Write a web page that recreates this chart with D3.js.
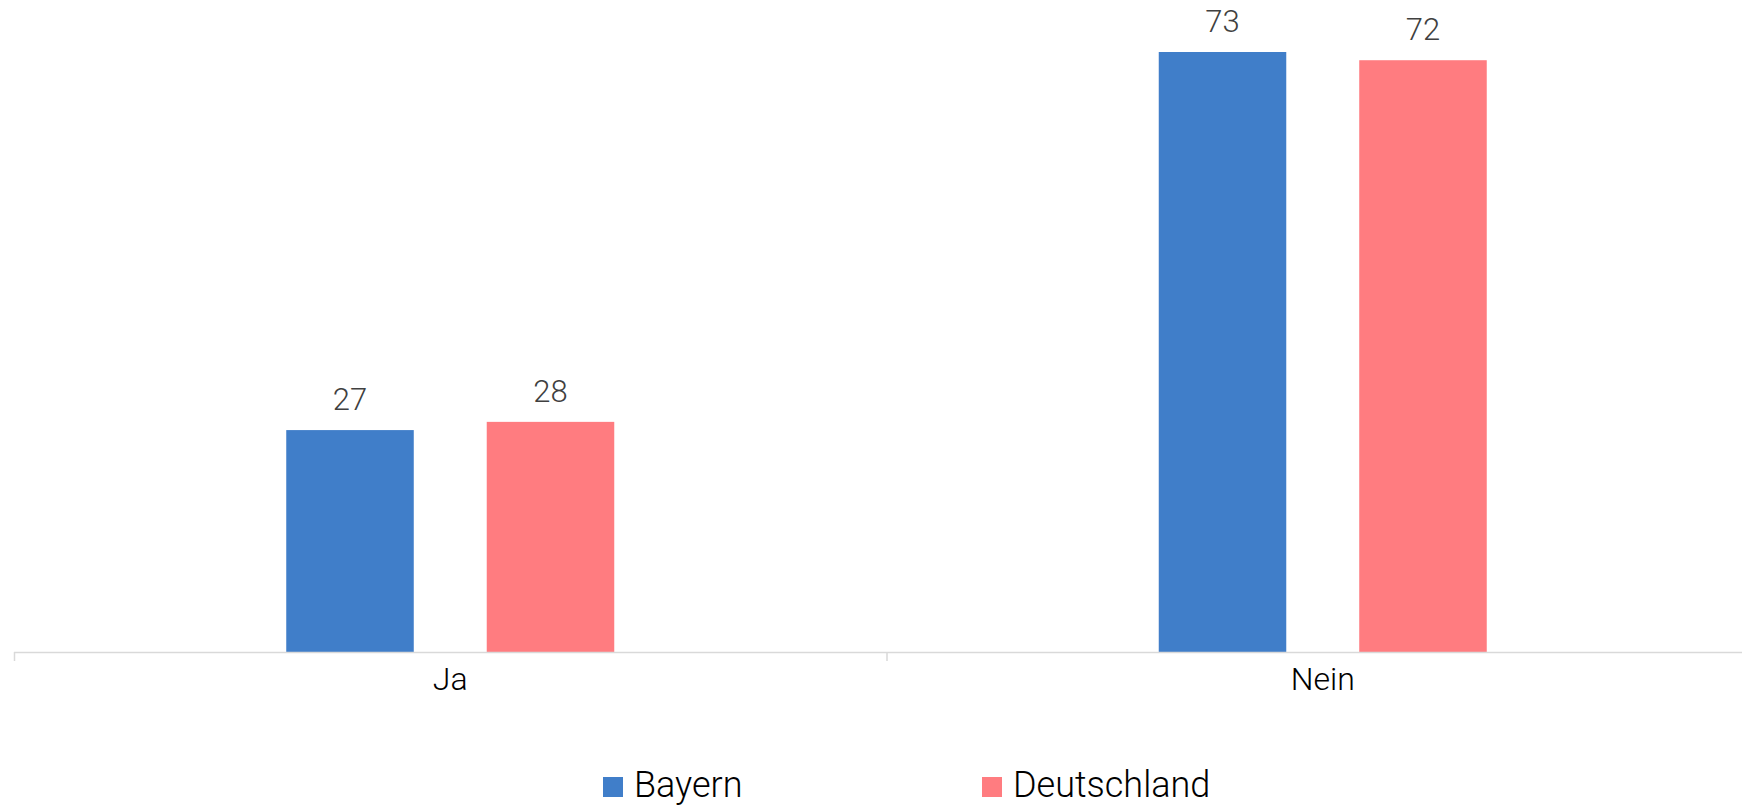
<!DOCTYPE html>
<html>
<head>
<meta charset="utf-8">
<script src="https://cdn.jsdelivr.net/npm/d3@7"></script>
<style>
  html, body { margin: 0; padding: 0; background: #fff; }
  svg { display: block; font-family: Roboto, "Noto Sans", sans-serif; }
</style>
</head>
<body>
<svg id="chart" width="1742" height="807"></svg>
<script>
// Antworten (Ja / Nein) in Prozent, Bayern vs. Deutschland
const categories = ["Ja", "Nein"];
const seriesNames = ["Bayern", "Deutschland"];
const bayern = [27, 73];
const deutschland = [28, 72];
const seriesColors = ["#407EC9", "#FF7C80"];

const rows = categories.map((c, i) => ({
  category: c,
  values: [
    { series: seriesNames[0], value: bayern[i] },
    { series: seriesNames[1], value: deutschland[i] }
  ]
}));

const svg = d3.select("#chart");
const baseY = 652;

const x0 = d3.scaleBand().domain(categories).range([14, 1759]).padding(0);
const groupWidth = 328;
const x1 = d3.scaleBand().domain(seriesNames).range([0, groupWidth]).paddingInner(0.364).paddingOuter(0);
const y = d3.scaleLinear().domain([0, 73]).range([baseY, 52]);
const color = d3.scaleOrdinal().domain(seriesNames).range(seriesColors);

// Bars
const groups = svg.append("g").selectAll("g")
  .data(rows).join("g")
  .attr("transform", d => `translate(${x0(d.category) + x0.bandwidth() / 2 - groupWidth / 2},0)`);

groups.selectAll("rect")
  .data(d => d.values).join("rect")
  .attr("x", d => x1(d.series))
  .attr("y", d => y(d.value))
  .attr("width", x1.bandwidth())
  .attr("height", d => y(0) - y(d.value))
  .attr("fill", d => color(d.series));

// Value labels
groups.selectAll("text")
  .data(d => d.values).join("text")
  .attr("x", d => x1(d.series) + x1.bandwidth() / 2)
  .attr("y", d => y(d.value) - 20)
  .attr("text-anchor", "middle")
  .attr("font-size", 31)
  .attr("font-weight", 300)
  .attr("fill", "#404040")
  .text(d => d.value);

// Category axis
const xAxis = d3.axisBottom(x0).tickSize(0).tickPadding(0);
const axisG = svg.append("g").attr("transform", `translate(0,${baseY})`).call(xAxis);
axisG.select(".domain").remove();
axisG.selectAll(".tick text")
  .attr("y", 15)
  .attr("font-size", 32)
  .attr("font-weight", 300)
  .attr("font-family", "Roboto, 'Noto Sans', sans-serif")
  .attr("fill", "#000");

axisG.append("line")
  .attr("x1", 14).attr("x2", 1759)
  .attr("y1", 0.5).attr("y2", 0.5)
  .attr("stroke", "#D9D9D9").attr("stroke-width", 1.5);

const boundaries = [x0.range()[0], ...categories.slice(1).map(c => x0(c)), x0.range()[1]];
axisG.selectAll("line.sep")
  .data(boundaries).join("line")
  .attr("class", "sep")
  .attr("x1", d => d + 0.5).attr("x2", d => d + 0.5)
  .attr("y1", 0).attr("y2", 9)
  .attr("stroke", "#D9D9D9").attr("stroke-width", 1.5);

// Legend
const legendX = [603, 982];
const legend = svg.append("g").selectAll("g")
  .data(seriesNames).join("g")
  .attr("transform", (d, i) => `translate(${legendX[i]},777)`);
legend.append("rect")
  .attr("width", 20).attr("height", 20)
  .attr("fill", d => color(d));
legend.append("text")
  .attr("x", 31).attr("y", 20)
  .attr("font-size", 36)
  .attr("font-weight", 300)
  .attr("fill", "#000")
  .text(d => d);
</script>
</body>
</html>
